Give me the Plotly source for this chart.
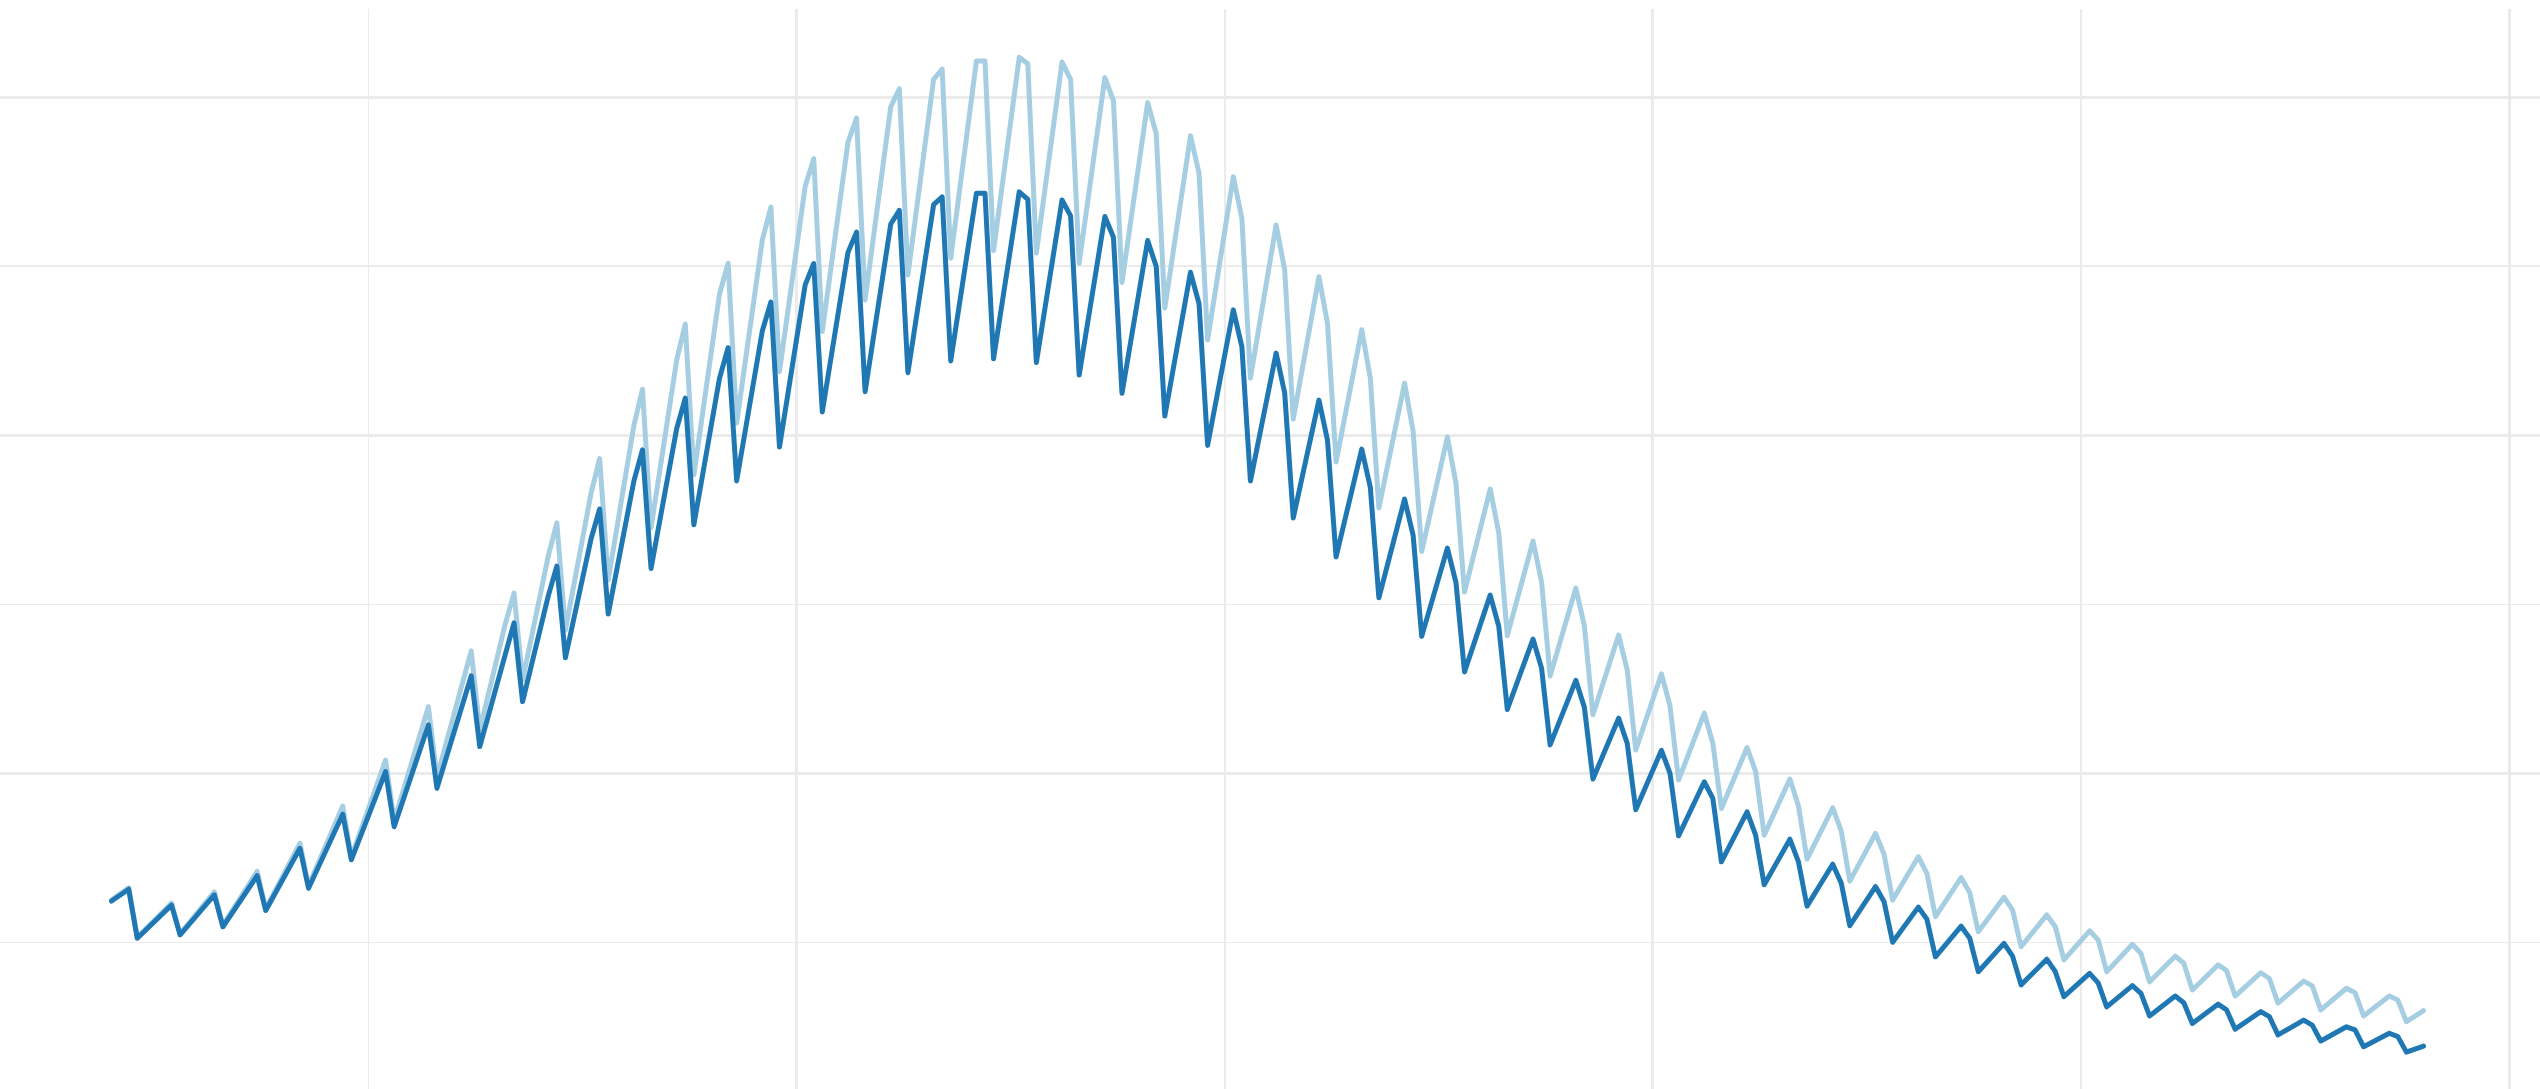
import plotly.graph_objects as go

# Index positions: series sampled on a 5-step weekly cycle; week k has
# its two high points at 21+5k, 22+5k and its low point at 23+5k.
first_x = 20
last_x = 290
n_weeks = 54

# ---- dark series (lower) ----
dark_start = 62.2
dark_end = 19.3
dark_hi1 = [64.0, 58.6, 61.0, 65.9, 73.2, 82.4, 93.9, 106.8, 121.1, 136.4,
            152.5, 169.4, 186.5, 202.0, 216.9, 230.9, 244.5, 254.1, 262.5, 268.2,
            271.6, 272.0, 269.6, 264.7, 257.6, 248.2, 237.1, 224.3, 210.4, 195.9,
            181.1, 166.6, 152.7, 139.7, 127.5, 116.3, 106.8, 97.5, 88.6, 80.5,
            73.1, 66.5, 60.4, 54.8, 49.7, 45.0, 40.8, 37.2, 34.1, 31.7,
            29.5, 27.0, 25.0, 23.1]
dark_hi2 = [65.7, 61.0, 64.0, 69.7, 77.8, 87.9, 100.5, 114.3, 128.8, 144.5,
            161.3, 178.2, 195.7, 211.0, 225.9, 239.4, 250.8, 260.1, 266.5, 270.5,
            271.6, 269.8, 264.9, 258.6, 249.9, 238.9, 226.2, 212.5, 198.5, 184.6,
            170.4, 156.5, 143.5, 131.1, 119.5, 108.9, 100.0, 92.6, 81.7, 73.8,
            67.5, 62.0, 56.8, 51.2, 45.9, 41.3, 38.0, 34.9, 32.1, 30.0,
            28.0, 25.5, 24.1, 22.1]
dark_low = [51.2, 52.2, 54.6, 59.4, 66.0, 74.4, 84.2, 95.6, 107.9, 121.2,
            134.2, 147.1, 160.6, 173.5, 186.5, 196.5, 206.9, 212.9, 218.5, 222.0,
            222.6, 221.5, 217.8, 212.4, 205.7, 197.0, 186.5, 175.5, 164.0, 151.9,
            140.5, 130.0, 118.9, 108.4, 98.3, 89.2, 81.5, 73.8, 67.0, 60.7,
            54.9, 50.0, 45.7, 41.3, 37.4, 33.9, 30.9, 28.2, 26.0, 24.3,
            22.6, 20.8, 19.1, 17.5]

# ---- light series (upper) ----
light_start = 62.5
light_end = 29.8
light_hi1 = [64.3, 59.1, 61.8, 67.0, 74.4, 84.4, 96.8, 111.2, 127.6, 144.4,
             164.3, 182.9, 202.9, 222.3, 241.8, 257.8, 273.6, 286.7, 297.2, 305.3,
             310.7, 311.8, 310.4, 305.8, 298.4, 288.6, 276.5, 262.2, 246.9, 231.2,
             215.4, 199.5, 184.1, 168.7, 154.8, 140.9, 129.4, 117.8, 107.6, 98.3,
             89.8, 82.2, 75.3, 69.1, 63.3, 58.1, 53.4, 49.4, 45.9, 43.3,
             41.0, 38.5, 36.4, 34.1]
light_hi2 = [66.1, 61.6, 64.9, 71.0, 79.3, 90.3, 103.9, 119.7, 136.2, 153.3,
             174.1, 193.1, 213.6, 232.9, 250.9, 267.5, 281.8, 293.8, 302.5, 308.3,
             310.7, 309.9, 305.3, 299.0, 289.2, 277.5, 264.2, 248.9, 233.1, 216.9,
             201.2, 185.9, 171.1, 156.6, 143.6, 130.6, 119.9, 108.9, 100.5, 90.3,
             82.9, 76.0, 70.4, 64.7, 59.6, 54.6, 50.7, 46.7, 43.8, 41.6,
             39.3, 37.1, 35.1, 32.9]
light_low = [51.4, 52.5, 55.0, 59.9, 66.7, 75.2, 85.9, 98.9, 112.8, 127.6,
             142.4, 157.2, 172.6, 188.3, 203.6, 218.8, 230.7, 240.0, 247.4, 252.4,
             254.6, 253.9, 250.9, 245.2, 237.6, 228.2, 216.9, 204.8, 192.1, 178.5,
             165.6, 153.6, 140.7, 128.8, 117.3, 106.9, 98.0, 89.6, 81.7, 74.6,
             68.1, 62.5, 57.6, 53.1, 48.7, 44.8, 41.3, 38.3, 35.9, 34.1,
             32.0, 30.0, 28.2, 26.5]

LIGHT = "#a6cee3"
DARK = "#1f78b4"
GRID = "#ebebeb"


def build(start, hi1, hi2, low, end):
    xs, ys = [first_x], [start]
    for k in range(n_weeks):
        base = 21 + 5 * k
        xs += [base, base + 1, base + 2]
        ys += [hi1[k], hi2[k], low[k]]
    xs.append(last_x)
    ys.append(end)
    return xs, ys


lx, ly = build(light_start, light_hi1, light_hi2, light_low, light_end)
dx, dy = build(dark_start, dark_hi1, dark_hi2, dark_low, dark_end)

fig = go.Figure()
fig.add_trace(go.Scatter(x=lx, y=ly, mode="lines",
                         line=dict(color=LIGHT, width=5), name="light",
                         showlegend=False, hoverinfo="skip"))
fig.add_trace(go.Scatter(x=dx, y=dy, mode="lines",
                         line=dict(color=DARK, width=5), name="dark",
                         showlegend=False, hoverinfo="skip"))

axis_common = dict(
    showticklabels=False, ticks="", zeroline=False, showline=False,
    showgrid=True, gridcolor=GRID, gridwidth=3, tick0=0, dtick=100,
    minor=dict(tick0=0, dtick=50, showgrid=True, gridcolor=GRID, gridwidth=1.5),
)
fig.update_layout(
    width=2540, height=1089,
    margin=dict(l=0, r=0, t=9, b=0, pad=0),
    paper_bgcolor="white", plot_bgcolor="white",
    showlegend=False,
    xaxis=dict(range=[6.97, 303.6], **axis_common),
    yaxis=dict(range=[6.6, 326.1], **axis_common),
)

post = """
document.body.style.margin = '0';
document.body.style.overflow = 'hidden';
document.querySelectorAll('path.js-line').forEach(function (p) {
  p.style.strokeLinejoin = 'round';
  p.style.strokeLinecap = 'round';
});
"""

fig.write_html("out.html", post_script=post,
               config={"displayModeBar": False, "staticPlot": True})
